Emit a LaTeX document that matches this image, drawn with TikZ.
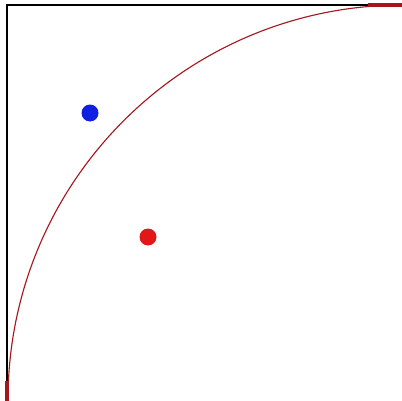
\documentclass[tikz,border=0pt]{standalone}
\usetikzlibrary{positioning}
\definecolor{arcred}{HTML}{A5161E}
\definecolor{dotblue}{HTML}{1020E0}
\definecolor{dotred}{HTML}{E01818}
\begin{document}
\begin{tikzpicture}[x=0.025cm,y=-0.025cm]
    \useasboundingbox (0,0) rectangle (402,401);
    \coordinate(O) at (403,400);
    \coordinate(A) at (8,400);
    \coordinate(B) at (403,5);

    % moldura
    \draw[black,line width=1.4pt] (7,401) -- (7,5) -- (402,5);

    % quarto de circulo (y invertido: 180 -> 270 sobe)
    \draw[arcred,line width=0.8pt] (A) arc[start angle=180, end angle=270, radius=395];
    \draw[arcred,line width=2.2pt] (368,5) -- (402,5);
    \draw[arcred,line width=2.2pt] (7,381) -- (7,401);

    \fill[dotblue] (90,113) circle (8.5);
    \fill[dotred] (148,237) circle (8.5);
\end{tikzpicture}
\end{document}
